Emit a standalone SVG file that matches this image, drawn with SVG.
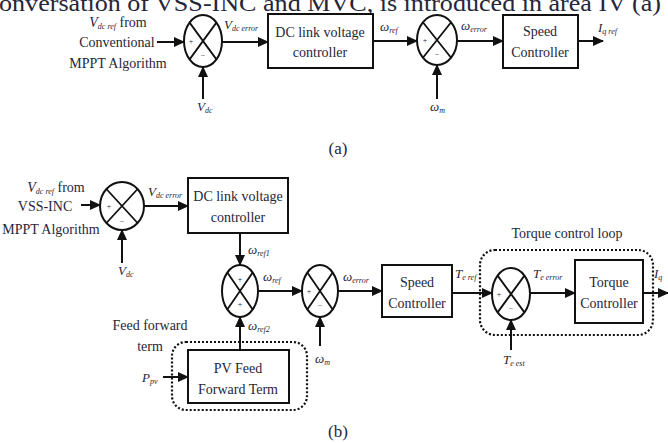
<svg xmlns="http://www.w3.org/2000/svg" width="668" height="443" viewBox="0 0 668 443">
<defs>
<marker id="arr" markerWidth="11" markerHeight="10" refX="10" refY="5" orient="auto" markerUnits="userSpaceOnUse"><path d="M0,0 L11,5 L0,10 z" fill="#111"/></marker>
</defs>
<style>
text{font-family:"Liberation Serif","Times New Roman",serif;fill:#26263a;}
.t{font-size:14px;text-anchor:middle;}
.l{font-size:13px;font-style:italic;}
.s{font-size:8px;font-style:italic;}
.box{fill:#fff;stroke:#111;stroke-width:2;}
.sum{fill:#fff;stroke:#111;stroke-width:2;}
.x{stroke:#111;stroke-width:1.8;fill:none;}
.sg{font-size:8px;text-anchor:middle;}
.w{stroke:#111;stroke-width:2;fill:none;marker-end:url(#arr);}
.dot{fill:none;stroke:#111;stroke-width:2.2;stroke-dasharray:2 2;}
.cap{font-size:17px;text-anchor:middle;}
</style>
<rect width="668" height="443" fill="#fff"/>
<text x="-1" y="11" style="font-size:23px" textLength="662" lengthAdjust="spacingAndGlyphs">onversation of VSS-INC and MVC, is introduced in area IV (a)</text>

<!-- (a) -->
<g id="a-input">
<text class="t" x="118" y="27"><tspan font-style="italic">V</tspan><tspan class="s" dy="2">dc ref</tspan><tspan dy="-2"> from</tspan></text>
<text class="t" x="117" y="47">Conventional</text>
<text class="t" x="118" y="68">MPPT Algorithm</text>
</g>
<g id="a-sum1">
<ellipse class="sum" cx="203" cy="41" rx="19" ry="26"/>
<path class="x" d="M189.6,22.6 L216.4,59.4 M216.4,22.6 L189.6,59.4"/>
<text class="sg" x="191" y="44">+</text><text class="sg" x="203" y="58">−</text>
</g>
<g id="a-vdc"><text class="l" x="197" y="111">V<tspan class="s" dy="2">dc</tspan></text></g>
<g id="a-dclink">
<rect class="box" x="268" y="14" width="105" height="54"/>
<text class="t" x="320" y="37">DC link voltage</text>
<text class="t" x="320" y="57">controller</text>
</g>
<g id="a-sum2">
<ellipse class="sum" cx="437" cy="40" rx="20" ry="25"/>
<path class="x" d="M422.9,22.3 L451.1,57.7 M451.1,22.3 L422.9,57.7"/>
<text class="sg" x="425" y="43">+</text><text class="sg" x="437" y="57">−</text>
</g>
<g id="a-wm"><text class="l" x="430" y="111">ω<tspan class="s" dy="2">m</tspan></text></g>
<g id="a-speed">
<rect class="box" x="503" y="15" width="75" height="53"/>
<text class="t" x="540" y="36">Speed</text>
<text class="t" x="540" y="57">Controller</text>
</g>
<g id="a-iq"><text class="l" x="598" y="32">I<tspan class="s" dy="2">q ref</tspan></text></g>
<text class="cap" x="338" y="154">(a)</text>

<!-- (b) -->
<g id="b-input">
<text class="t" x="56" y="192"><tspan font-style="italic">V</tspan><tspan class="s" dy="2">dc ref</tspan><tspan dy="-2"> from</tspan></text>
<text class="t" x="45" y="211">VSS-INC</text>
<text class="t" x="51" y="234">MPPT Algorithm</text>
</g>
<g id="b-sum1">
<ellipse class="sum" cx="122" cy="206" rx="22" ry="24"/>
<path class="x" d="M106.4,189 L137.6,223 M137.6,189 L106.4,223"/>
<text class="sg" x="109" y="209">+</text><text class="sg" x="122" y="224">−</text>
</g>
<g id="b-vdc"><text class="l" x="118" y="275">V<tspan class="s" dy="2">dc</tspan></text></g>
<g id="b-dclink">
<rect class="box" x="188" y="178" width="100" height="55"/>
<text class="t" x="238" y="201">DC link voltage</text>
<text class="t" x="238" y="222">controller</text>
</g>
<g id="b-sum2">
<ellipse class="sum" cx="240" cy="291" rx="18" ry="26"/>
<path class="x" d="M227.3,272.6 L252.7,309.4 M252.7,272.6 L227.3,309.4"/>
<text class="sg" x="240" y="282">+</text><text class="sg" x="240" y="307">+</text>
</g>
<g id="b-sum3">
<ellipse class="sum" cx="320" cy="291" rx="18" ry="26"/>
<path class="x" d="M307.3,272.6 L332.7,309.4 M332.7,272.6 L307.3,309.4"/>
<text class="sg" x="309" y="294">+</text><text class="sg" x="320" y="308">−</text>
</g>
<g id="b-wm"><text class="l" x="315" y="363">ω<tspan class="s" dy="2">m</tspan></text></g>
<g id="b-ff">
<rect class="dot" x="172" y="342" width="135" height="68" rx="14"/>
<rect class="box" x="188" y="350" width="101" height="53"/>
<text class="t" x="238" y="373">PV Feed</text>
<text class="t" x="238" y="394">Forward Term</text>
<text class="t" x="150" y="330">Feed forward</text>
<text class="t" x="150" y="351">term</text>
</g>
<g id="b-ppv"><text class="l" x="142" y="382">P<tspan class="s" dy="2">pv</tspan></text></g>
<g id="b-speed">
<rect class="box" x="382" y="265" width="70" height="52"/>
<text class="t" x="417" y="287">Speed</text>
<text class="t" x="417" y="308">Controller</text>
</g>
<g id="b-torque">
<rect class="dot" x="480" y="250" width="173" height="85" rx="15"/>
<text class="t" x="567" y="238">Torque control loop</text>
<ellipse class="sum" cx="511" cy="294" rx="19" ry="26"/>
<path class="x" d="M497.6,275.6 L524.4,312.4 M524.4,275.6 L497.6,312.4"/>
<text class="sg" x="499" y="297">+</text><text class="sg" x="511" y="311">−</text>
<rect class="box" x="575" y="260" width="68" height="63"/>
<text class="t" x="609" y="287">Torque</text>
<text class="t" x="609" y="308">Controller</text>
</g>
<g id="b-test"><text class="l" x="503" y="364">T<tspan class="s" dy="2">e est</tspan></text></g>
<text class="cap" x="338" y="437">(b)</text>

<g id="connectors">
<path class="w" d="M157,42 H184"/>
<path class="w" d="M203,99 V67"/>
<path class="w" d="M222,42 H268"/>
<path class="w" d="M373,41 H417"/>
<path class="w" d="M437,99 V65"/>
<path class="w" d="M457,41 H503"/>
<path class="w" d="M578,41 H603"/>
<path class="w" d="M81,205 H100"/>
<path class="w" d="M122,263 V230"/>
<path class="w" d="M144,206 H188"/>
<path class="w" d="M240,233 V265"/>
<path class="w" d="M258,291 H302"/>
<path class="w" d="M240,350 V317"/>
<path class="w" d="M320,346 V317"/>
<path class="w" d="M338,291 H382"/>
<path class="w" d="M163,377 H188"/>
<path class="w" d="M452,293 H492"/>
<path class="w" d="M511,350 V320"/>
<path class="w" d="M530,293 H575"/>
<path class="w" d="M643,293 H668"/>
<text class="l" x="224" y="29">V<tspan class="s" dy="2">dc error</tspan></text>
<text class="l" x="380" y="31">ω<tspan class="s" dy="2">ref</tspan></text>
<text class="l" x="461" y="30">ω<tspan class="s" dy="2">error</tspan></text>
<text class="l" x="148" y="196">V<tspan class="s" dy="2">dc error</tspan></text>
<text class="l" x="248" y="254">ω<tspan class="s" dy="2">ref1</tspan></text>
<text class="l" x="263" y="281">ω<tspan class="s" dy="2">ref</tspan></text>
<text class="l" x="343" y="281">ω<tspan class="s" dy="2">error</tspan></text>
<text class="l" x="248" y="330">ω<tspan class="s" dy="2">ref2</tspan></text>
<text class="l" x="455" y="278">T<tspan class="s" dy="2">e ref</tspan></text>
<text class="l" x="533" y="278">T<tspan class="s" dy="2">e error</tspan></text>
<text class="l" x="654" y="278">I<tspan class="s" dy="2">q</tspan></text>
</g>
</svg>
